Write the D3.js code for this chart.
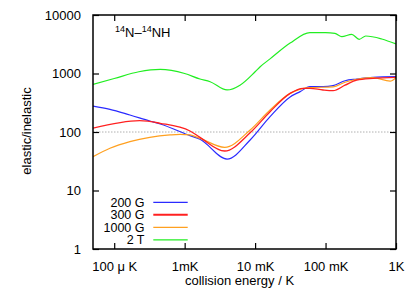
<!DOCTYPE html>
<html>
<head>
<meta charset="utf-8">
<script src="https://cdn.jsdelivr.net/npm/d3@7"></script>
<style>
  body { margin: 0; background: #fff; }
  text { font-family: "Liberation Sans", Arial, sans-serif; }
</style>
</head>
<body>
<svg id="chart" width="415" height="291"></svg>
<script>
// collision energy (K) and elastic/inelastic ratio
const energy200 = [5e-5, 8.7e-5, 1.67e-4, 3.2e-4, 4.5e-4, 1.19e-3, 1.65e-3, 4.0e-3, 8.5e-3, 0.0163, 0.0314, 0.0436, 0.060, 0.092, 0.128, 0.189, 0.277, 0.473, 1];
const ratio200 = [278, 244, 195, 154, 137, 86.5, 75, 34.5, 73, 183, 398, 490, 596, 596, 619, 753, 805, 861, 883];

const energy300 = [5e-5, 2.3e-4, 4.5e-4, 1.19e-3, 1.65e-3, 3.7e-3, 8.5e-3, 0.0163, 0.0314, 0.048, 0.060, 0.092, 0.128, 0.189, 0.277, 0.473, 1];
const ratio300 = [116, 156, 141, 104, 81, 47.3, 97, 222, 457, 558, 558, 522, 508, 631, 774, 828, 861];

const energy1000 = [5e-5, 8.7e-5, 1.67e-4, 3.2e-4, 6.2e-4, 8.6e-4, 1.19e-3, 1.65e-3, 3.7e-3, 8.5e-3, 0.0163, 0.0314, 0.060, 0.128, 0.189, 0.473, 0.826, 1];
const ratio1000 = [37.8, 52.6, 68.4, 81, 89, 91, 89, 78, 54.7, 108, 238, 457, 575, 590, 708, 851, 741, 851];

const energy2T = [5e-5, 1e-4, 2.24e-4, 4.5e-4, 1e-3, 1.65e-3, 2.3e-3, 4.0e-3, 6.1e-3, 0.01, 0.0118, 0.0163, 0.0314, 0.060, 0.1, 0.136, 0.17, 0.235, 0.30, 0.372, 0.628, 1];
const ratio2T = [653, 820, 1070, 1175, 1000, 805, 724, 523, 631, 1070, 1306, 1778, 3311, 5012, 5012, 4864, 4256, 4677, 3846, 4375, 3890, 3192];

const xTicks = [1e-4, 1e-3, 1e-2, 1e-1, 1];
const xTickLabels = ["100 \u03bc K", "1mK", "10 mK", "100 mK", "1K"];
const yTicks = [1, 10, 100, 1000, 10000];

const series = [
  { name: "200 G", x: energy200, y: ratio200, color: "#2b2bff", width: 1.2 },
  { name: "300 G", x: energy300, y: ratio300, color: "#ff2020", width: 1.3 },
  { name: "1000 G", x: energy1000, y: ratio1000, color: "#ffa020", width: 1.2 },
  { name: "2 T", x: energy2T, y: ratio2T, color: "#22ee22", width: 1.2 }
];

const svg = d3.select("#chart");
const plotL = 93, plotR = 396, plotT = 15, plotB = 249;

const x = d3.scaleLog().domain([5e-5, 1]).range([plotL, plotR]);
const y = d3.scaleLog().domain([1, 10000]).range([plotB, plotT]);

// reference line at ratio 100
svg.append("line")
  .attr("x1", plotL).attr("x2", plotR)
  .attr("y1", y(100)).attr("y2", y(100))
  .attr("stroke", "#b0b0b0")
  .attr("stroke-dasharray", "1.5,1.5")
  .attr("stroke-width", 1);

const line = d3.line()
  .x(d => x(d[0]))
  .y(d => y(d[1]))
  .curve(d3.curveMonotoneX);

svg.append("clipPath").attr("id", "clip")
  .append("rect").attr("x", plotL).attr("y", plotT)
  .attr("width", plotR - plotL).attr("height", plotB - plotT);

// draw the 2 T line first, so the others sit on top
[series[3], series[0], series[2], series[1]].forEach(s => {
  svg.append("path")
    .datum(s.x.map((v, i) => [v, s.y[i]]))
    .attr("fill", "none")
    .attr("stroke", s.color)
    .attr("stroke-width", s.width)
    .attr("clip-path", "url(#clip)")
    .attr("d", line);
});

// axes, gnuplot style: ticks inward, mirrored
const tickLen = 6;
const axisBottom = svg.append("g").attr("transform", `translate(0,${plotB})`)
  .call(d3.axisBottom(x).tickValues(xTicks).tickSizeInner(-tickLen).tickSizeOuter(0)
    .tickPadding(tickLen + 7).tickFormat((d, i) => xTickLabels[i]));
const axisTop = svg.append("g").attr("transform", `translate(0,${plotT})`)
  .call(d3.axisTop(x).tickValues(xTicks).tickSizeInner(-tickLen).tickSizeOuter(0).tickFormat(""));
const axisLeft = svg.append("g").attr("transform", `translate(${plotL},0)`)
  .call(d3.axisLeft(y).tickValues(yTicks).tickSizeInner(-tickLen).tickSizeOuter(0)
    .tickPadding(tickLen + 6).tickFormat(d3.format("d")));
const axisRight = svg.append("g").attr("transform", `translate(${plotR},0)`)
  .call(d3.axisRight(y).tickValues(yTicks).tickSizeInner(-tickLen).tickSizeOuter(0).tickFormat(""));

[axisBottom, axisTop, axisLeft, axisRight].forEach(g => {
  g.select(".domain").remove();
  g.selectAll("line").attr("stroke", "#000").attr("stroke-width", 1.2);
  g.selectAll("text").attr("font-size", 13).attr("fill", "#000")
    .style("font-family", "'Liberation Sans', Arial, sans-serif");
});

svg.append("rect")
  .attr("x", plotL).attr("y", plotT)
  .attr("width", plotR - plotL).attr("height", plotB - plotT)
  .attr("fill", "none").attr("stroke", "#000").attr("stroke-width", 1.5);

// axis titles
svg.append("text")
  .attr("x", (plotL + plotR) / 2 - 5).attr("y", 285)
  .attr("text-anchor", "middle").attr("font-size", 13)
  .text("collision energy / K");

svg.append("text")
  .attr("transform", "translate(31,131) rotate(-90)")
  .attr("text-anchor", "middle").attr("font-size", 13)
  .text("elastic/inelastic");

// system label
const title = svg.append("text").attr("x", 115).attr("y", 37).attr("font-size", 13);
title.append("tspan").attr("font-size", 9).attr("dy", -5).text("14");
title.append("tspan").attr("dy", 5).text("N\u2013");
title.append("tspan").attr("font-size", 9).attr("dy", -5).text("14");
title.append("tspan").attr("dy", 5).text("NH");

// legend
const legend = svg.append("g");
series.forEach((s, i) => {
  const ly = 202.3 + i * 12.5;
  legend.append("text")
    .attr("x", 144.5).attr("y", ly).attr("dy", "0.36em")
    .attr("text-anchor", "end").attr("font-size", 12.5)
    .text(s.name);
  legend.append("line")
    .attr("x1", 153.3).attr("x2", 187.7)
    .attr("y1", ly).attr("y2", ly)
    .attr("stroke", s.color).attr("stroke-width", s.name === "300 G" ? 2 : 1.2);
});
</script>
</body>
</html>
